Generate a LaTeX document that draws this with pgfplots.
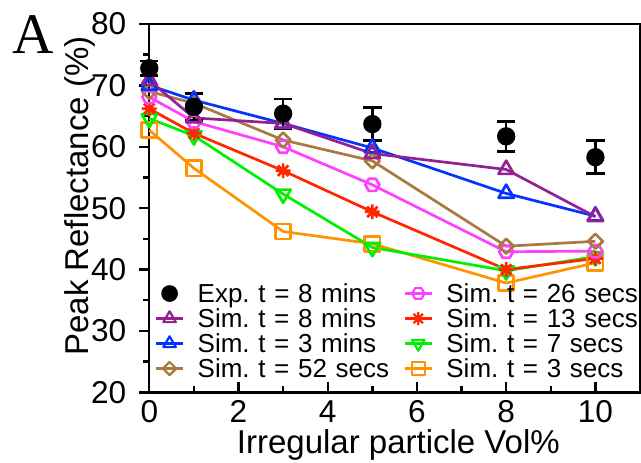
\documentclass[border=0pt]{standalone}
\usepackage{fontspec}
\setmainfont{Liberation Sans}
\newfontfamily\serifA{Liberation Serif}
\usepackage{pgfplots}
\pgfplotsset{compat=1.18}
\definecolor{cpurple}{RGB}{148,33,147}
\definecolor{cblue}{RGB}{4,51,255}
\definecolor{cbrown}{RGB}{170,121,66}
\definecolor{cpink}{RGB}{255,64,255}
\definecolor{cred}{RGB}{255,38,0}
\definecolor{cgreen}{RGB}{0,240,0}
\definecolor{corange}{RGB}{255,147,0}
\pgfdeclareplotmark{hexa}{%
  \pgfpathmoveto{\pgfpointpolar{0}{\pgfplotmarksize}}%
  \pgfpathlineto{\pgfpointpolar{60}{\pgfplotmarksize}}%
  \pgfpathlineto{\pgfpointpolar{120}{\pgfplotmarksize}}%
  \pgfpathlineto{\pgfpointpolar{180}{\pgfplotmarksize}}%
  \pgfpathlineto{\pgfpointpolar{240}{\pgfplotmarksize}}%
  \pgfpathlineto{\pgfpointpolar{300}{\pgfplotmarksize}}%
  \pgfpathclose\pgfusepathqstroke}
\pgfdeclareplotmark{rhomb}{%
  \pgfpathmoveto{\pgfqpoint{\pgfplotmarksize}{0pt}}%
  \pgfpathlineto{\pgfqpoint{0pt}{\pgfplotmarksize}}%
  \pgfpathlineto{\pgfqpoint{-\pgfplotmarksize}{0pt}}%
  \pgfpathlineto{\pgfqpoint{0pt}{-\pgfplotmarksize}}%
  \pgfpathclose\pgfusepathqstroke}
\pgfdeclareplotmark{ast8}{%
  \pgfpathmoveto{\pgfpointpolar{0}{\pgfplotmarksize}}\pgfpathlineto{\pgfpointpolar{180}{\pgfplotmarksize}}%
  \pgfpathmoveto{\pgfpointpolar{45}{\pgfplotmarksize}}\pgfpathlineto{\pgfpointpolar{225}{\pgfplotmarksize}}%
  \pgfpathmoveto{\pgfpointpolar{90}{\pgfplotmarksize}}\pgfpathlineto{\pgfpointpolar{270}{\pgfplotmarksize}}%
  \pgfpathmoveto{\pgfpointpolar{135}{\pgfplotmarksize}}\pgfpathlineto{\pgfpointpolar{315}{\pgfplotmarksize}}%
  \pgfusepathqstroke}
\begin{document}
\frenchspacing
\begin{tikzpicture}
\path[use as bounding box] (-74.65pt,-34.85pt) rectangle (245.85pt,196.15pt);
\begin{axis}[
  at={(0pt,0pt)}, anchor=south west,
  scale only axis, width=245.35pt, height=184.15pt,
  xmin=0, xmax=11, ymin=20, ymax=80,
  clip=false,
  xtick={0,2,...,10}, minor xtick={1,3,5,7,9},
  ytick={20,30,...,80}, minor ytick={25,35,...,75},
  tick pos=left,
  xtick align=inside, ytick align=outside,
  major tick length=5pt, minor tick length=3pt,
  axis line style={line width=1.2pt},
  every tick/.style={black, line width=1.2pt},
  every minor tick/.style={black, line width=1.2pt},
  /pgf/number format/assume math mode=true,
  tick label style={font=\fontsize{15.8}{18}\selectfont},
  xticklabel style={anchor=north, inner sep=0pt, yshift=-3.85pt},
  yticklabel style={anchor=east, inner sep=0pt, xshift=-6.3pt},
  xlabel={Irregular particle Vol\%},
  ylabel={Peak Reflectance (\%)},
  xlabel style={at={(axis description cs:0.5075,-0.1648)}, anchor=base, inner sep=0pt, font=\fontsize{16.5}{20}\selectfont},
  ylabel style={at={(axis description cs:-0.1243,0.533)}, anchor=base, inner sep=0pt, font=\fontsize{16.5}{20}\selectfont},
  legend columns=2,
  legend cell align=left,
  legend style={draw=none, fill=none, inner sep=0pt, outer sep=0pt,
    at={(axis description cs:0.0116,0.3022)}, anchor=north west,
    font=\fontsize{13}{15}\selectfont, column sep=6.75pt, row sep=0pt,
    nodes={inner sep=0pt, text height=10.9pt, text depth=1.6pt, text width=96.25pt, align=left}},
  legend image code/.code={\draw[mark repeat=2,mark phase=2,#1] plot coordinates {(0pt,0pt) (6.75pt,0pt) (13.5pt,0pt)};},
  every axis plot/.append style={line width=1.35pt, line join=round},
]
% simulations
\addplot[corange, mark=square, mark size=3.8pt, mark options={solid}, forget plot]
  coordinates {(0,62.7) (1,56.5) (3,46.2) (5,44.2) (8,37.8) (10,41.1)};
\addplot[cgreen, mark=triangle, mark size=4.4pt, mark options={solid, rotate=180}, forget plot]
  coordinates {(0,64.6) (1,61.8) (3,52.3) (5,43.6) (8,39.8) (10,42.1)};
\addplot[cred, mark=ast8, mark size=3.7pt, mark options={solid}, forget plot]
  coordinates {(0,66.2) (1,62.2) (3,56.1) (5,49.4) (8,40.0) (10,41.8)};
\addplot[cpink, mark=hexa, mark size=3.5pt, mark options={solid}, forget plot]
  coordinates {(0,68.1) (1,64.1) (3,60.0) (5,53.8) (8,42.9) (10,43.0)};
\addplot[cbrown, mark=rhomb, mark size=3.7pt, mark options={solid}, forget plot]
  coordinates {(0,69.0) (1,67.1) (3,61.1) (5,57.7) (8,43.8) (10,44.6)};
\addplot[cblue, mark=triangle, mark size=4.4pt, mark options={solid}, forget plot]
  coordinates {(0,70.0) (1,67.6) (3,63.8) (5,59.8) (8,52.4) (10,48.7)};
\addplot[cpurple, mark=triangle, mark size=4.4pt, mark options={solid}, forget plot]
  coordinates {(0,70.8) (1,64.7) (3,63.8) (5,58.9) (8,56.3) (10,48.6)};
% experiment
\addplot[black, only marks, mark=*, mark size=3.9pt, forget plot,
  error bars/.cd, y dir=both, y explicit,
  error bar style={line width=1.3pt, black},
  error mark options={rotate=90, mark size=4.6pt, line width=1.3pt, black}]
  coordinates {(0,72.8) +- (0,1.2) (1,66.5) +- (0,2.2) (3,65.4) +- (0,2.4)
               (5,63.7) +- (0,2.7) (8,61.7) +- (0,2.45) (10,58.3) +- (0,2.7)};
% legend (row-wise order)
\addlegendimage{black, only marks, mark=*, mark size=3.5pt, legend image code/.code={\draw[mark repeat=2,mark phase=2,##1] plot coordinates {(0pt,0pt) (6.75pt,0pt) (13.5pt,0pt)};}}
\addlegendentry{Exp. t = 8 mins}
\addlegendimage{cpink, line width=1.1pt, mark=hexa, mark size=3.1pt, mark options={solid}}
\addlegendentry{Sim. t = 26 secs}
\addlegendimage{cpurple, line width=1.1pt, mark=triangle, mark size=3.6pt, mark options={solid}}
\addlegendentry{Sim. t = 8 mins}
\addlegendimage{cred, line width=1.1pt, mark=ast8, mark size=3.3pt, mark options={solid}}
\addlegendentry{Sim. t = 13 secs}
\addlegendimage{cblue, line width=1.1pt, mark=triangle, mark size=3.6pt, mark options={solid}}
\addlegendentry{Sim. t = 3 mins}
\addlegendimage{cgreen, line width=1.1pt, mark=triangle, mark size=3.6pt, mark options={solid, rotate=180}}
\addlegendentry{Sim. t = 7 secs}
\addlegendimage{cbrown, line width=1.1pt, mark=rhomb, mark size=3.3pt, mark options={solid}}
\addlegendentry{Sim. t = 52 secs}
\addlegendimage{corange, line width=1.1pt, mark=square, mark size=3.3pt, mark options={solid}}
\addlegendentry{Sim. t = 3 secs}
\end{axis}
\node[anchor=base west, inner sep=0pt, font=\serifA\fontsize{28.7}{34}\selectfont] at (-68.65pt,169.65pt) {A};
\end{tikzpicture}
\end{document}
